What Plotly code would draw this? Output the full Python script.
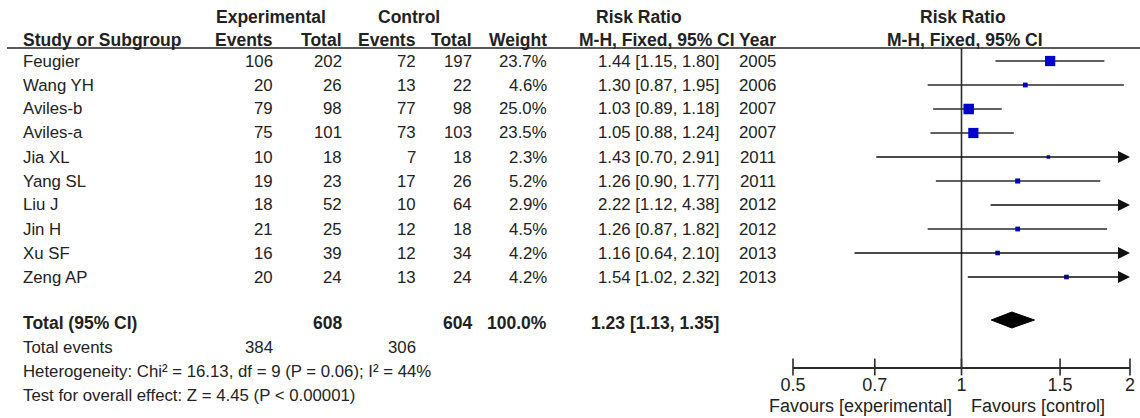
import math
import plotly.graph_objects as go

# ---------------- data ----------------
studies = ["Feugier", "Wang YH", "Aviles-b", "Aviles-a", "Jia XL", "Yang SL",
           "Liu J", "Jin H", "Xu SF", "Zeng AP"]
exp_events = [106, 20, 79, 75, 10, 19, 18, 21, 16, 20]
exp_total = [202, 26, 98, 101, 18, 23, 52, 25, 39, 24]
ctrl_events = [72, 13, 77, 73, 7, 17, 10, 12, 12, 13]
ctrl_total = [197, 22, 98, 103, 18, 26, 64, 18, 34, 24]
weights = [23.7, 4.6, 25.0, 23.5, 2.3, 5.2, 2.9, 4.5, 4.2, 4.2]
rr = [1.44, 1.30, 1.03, 1.05, 1.43, 1.26, 2.22, 1.26, 1.16, 1.54]
ci_low = [1.15, 0.87, 0.89, 0.88, 0.70, 0.90, 1.12, 0.87, 0.64, 1.02]
ci_high = [1.80, 1.95, 1.18, 1.24, 2.91, 1.77, 4.38, 1.82, 2.10, 2.32]
years = [2005, 2006, 2007, 2007, 2011, 2011, 2012, 2012, 2013, 2013]

total_exp_n = 608
total_ctrl_n = 604
total_weight = 100.0
total_rr = 1.23
total_low = 1.13
total_high = 1.35
total_exp_events = 384
total_ctrl_events = 306
heterogeneity = "Heterogeneity: Chi² = 16.13, df = 9 (P = 0.06); I² = 44%"
overall = "Test for overall effect: Z = 4.45 (P &lt; 0.00001)"

tick_vals = [0.5, 0.7, 1, 1.5, 2]
tick_text = ["0.5", "0.7", "1", "1.5", "2"]
x_min, x_max = 0.5, 2

# ---------------- layout constants (pixels) ----------------
W, H = 1140, 418
FONT = "Liberation Sans, Arial, sans-serif"
TXT = "#222222"
FS = 16.8
FSB = 17.5
FS_AX = 18
row0, pitch = 61, 24.0
total_y = 323
axis_y = 367
head1_y, head2_y, rule_y = 17, 40, 48

col_study = 22
col_ee, col_et, col_ce, col_ct, col_w, col_rr, col_yr = 274, 343, 417, 473, 548, 720, 777
plot_x0, plot_x1 = 793, 1130

row_y = [row0 + pitch * i for i in range(len(studies))]

fig = go.Figure()

def px(x):
    return x / W

def py(y):
    return 1 - y / H

def txt(x, y, s, anchor="left", bold=False, size=None):
    fig.add_annotation(x=px(x), y=py(y), xref="paper", yref="paper", text=(f"<b>{s}</b>" if bold else s),
                       showarrow=False, xanchor=anchor, yanchor="middle", borderpad=0,
                       font=dict(family=FONT, size=(size or (FSB if bold else FS)), color=TXT))

# headers
txt(271, head1_y, "Experimental", "center", True)
txt(409, head1_y, "Control", "center", True)
txt(639, head1_y, "Risk Ratio", "center", True)
txt(963, head1_y, "Risk Ratio", "center", True)
txt(col_study, head2_y, "Study or Subgroup", "left", True)
txt(col_ee, head2_y, "Events", "right", True)
txt(col_et, head2_y, "Total", "right", True)
txt(col_ce, head2_y, "Events", "right", True)
txt(col_ct, head2_y, "Total", "right", True)
txt(col_w, head2_y, "Weight", "right", True)
txt(736, head2_y, "M-H, Fixed, 95% CI", "right", True)
txt(col_yr, head2_y, "Year", "right", True)
txt(965, head2_y, "M-H, Fixed, 95% CI", "center", True)

fig.add_shape(type="line", xref="paper", yref="paper", x0=px(7), x1=1, y0=py(rule_y), y1=py(rule_y),
              line=dict(color=TXT, width=1.5))

# rows
for i, s in enumerate(studies):
    y = row_y[i]
    txt(col_study, y, s, "left")
    txt(col_ee, y, str(exp_events[i]), "right")
    txt(col_et, y, str(exp_total[i]), "right")
    txt(col_ce, y, str(ctrl_events[i]), "right")
    txt(col_ct, y, str(ctrl_total[i]), "right")
    txt(col_w, y, f"{weights[i]:.1f}%", "right")
    txt(col_rr, y, f"{rr[i]:.2f} [{ci_low[i]:.2f}, {ci_high[i]:.2f}]", "right")
    txt(col_yr, y, str(years[i]), "right")

# totals
txt(col_study, total_y, "Total (95% CI)", "left", True)
txt(col_et, total_y, str(total_exp_n), "right", True)
txt(col_ct, total_y, str(total_ctrl_n), "right", True)
txt(col_w, total_y, f"{total_weight:.1f}%", "right", True)
txt(col_rr, total_y, f"{total_rr:.2f} [{total_low:.2f}, {total_high:.2f}]", "right", True)
txt(col_study, total_y + pitch, "Total events", "left")
txt(col_ee, total_y + pitch, str(total_exp_events), "right")
txt(col_ce, total_y + pitch, str(total_ctrl_events), "right")
txt(col_study, total_y + 2 * pitch, heterogeneity, "left")
txt(col_study, total_y + 3 * pitch, overall, "left")

# favours labels
txt(953, 406, "Favours [experimental]", "right", size=FS_AX)
txt(970, 406, "Favours [control]", "left", size=FS_AX)

# ---------------- forest plot ----------------
LINE = "#2b2b2b"
# null line
fig.add_trace(go.Scatter(x=[1, 1], y=[rule_y, axis_y], mode="lines",
                         line=dict(color=LINE, width=1.6), hoverinfo="skip", showlegend=False))
# CI lines
for i in range(len(studies)):
    y = row_y[i]
    if ci_high[i] > x_max:
        fig.add_annotation(x=math.log10(x_max), y=y, ax=math.log10(ci_low[i]), ay=y,
                           xref="x", yref="y", axref="x", ayref="y",
                           showarrow=True, arrowhead=2, arrowsize=1.5, arrowwidth=1.6,
                           arrowcolor="#111111", text="")
    else:
        fig.add_trace(go.Scatter(x=[ci_low[i], ci_high[i]], y=[y, y], mode="lines",
                                 line=dict(color=LINE, width=1.6), hoverinfo="skip", showlegend=False))
# squares
fig.add_trace(go.Scatter(x=rr, y=row_y, mode="markers",
                         marker=dict(symbol="square", color="#0000CC", opacity=1,
                                     size=[2 * math.sqrt(w) + 0.5 for w in weights], line=dict(width=0)),
                         showlegend=False, hoverinfo="skip"))
# diamond
dh = 8
dy = total_y - 3
fig.add_trace(go.Scatter(x=[total_low, total_rr, total_high, total_rr, total_low],
                         y=[dy, dy - dh, dy, dy + dh, dy], mode="lines", fill="toself",
                         fillcolor="#000000", line=dict(color="#000000", width=1),
                         showlegend=False, hoverinfo="skip"))
# tick marks crossing the axis
fig.add_trace(go.Scatter(x=tick_vals, y=[axis_y] * len(tick_vals), mode="markers",
                         marker=dict(symbol="line-ns", size=12, line=dict(color=LINE, width=1.6)),
                         cliponaxis=False, showlegend=False, hoverinfo="skip"))

fig.update_layout(
    width=W, height=H, margin=dict(l=0, r=0, t=0, b=0, pad=0, autoexpand=False),
    paper_bgcolor="white", plot_bgcolor="white",
    xaxis=dict(type="log", range=[math.log10(x_min), math.log10(x_max)],
               domain=[px(plot_x0), px(plot_x1)], showgrid=False, zeroline=False,
               showline=True, linecolor=LINE, linewidth=1.6, automargin=False,
               ticks="outside", ticklen=1, tickwidth=1, tickcolor="rgba(0,0,0,0)",
               tickvals=tick_vals, ticktext=tick_text,
               tickfont=dict(family=FONT, size=FS_AX, color=TXT)),
    yaxis=dict(range=[axis_y, 0], domain=[1 - axis_y / H, 1], visible=False, automargin=False),
)

fig.write_html("out.html", config={"displayModeBar": False},
               post_script="document.body.style.margin='0px';")
